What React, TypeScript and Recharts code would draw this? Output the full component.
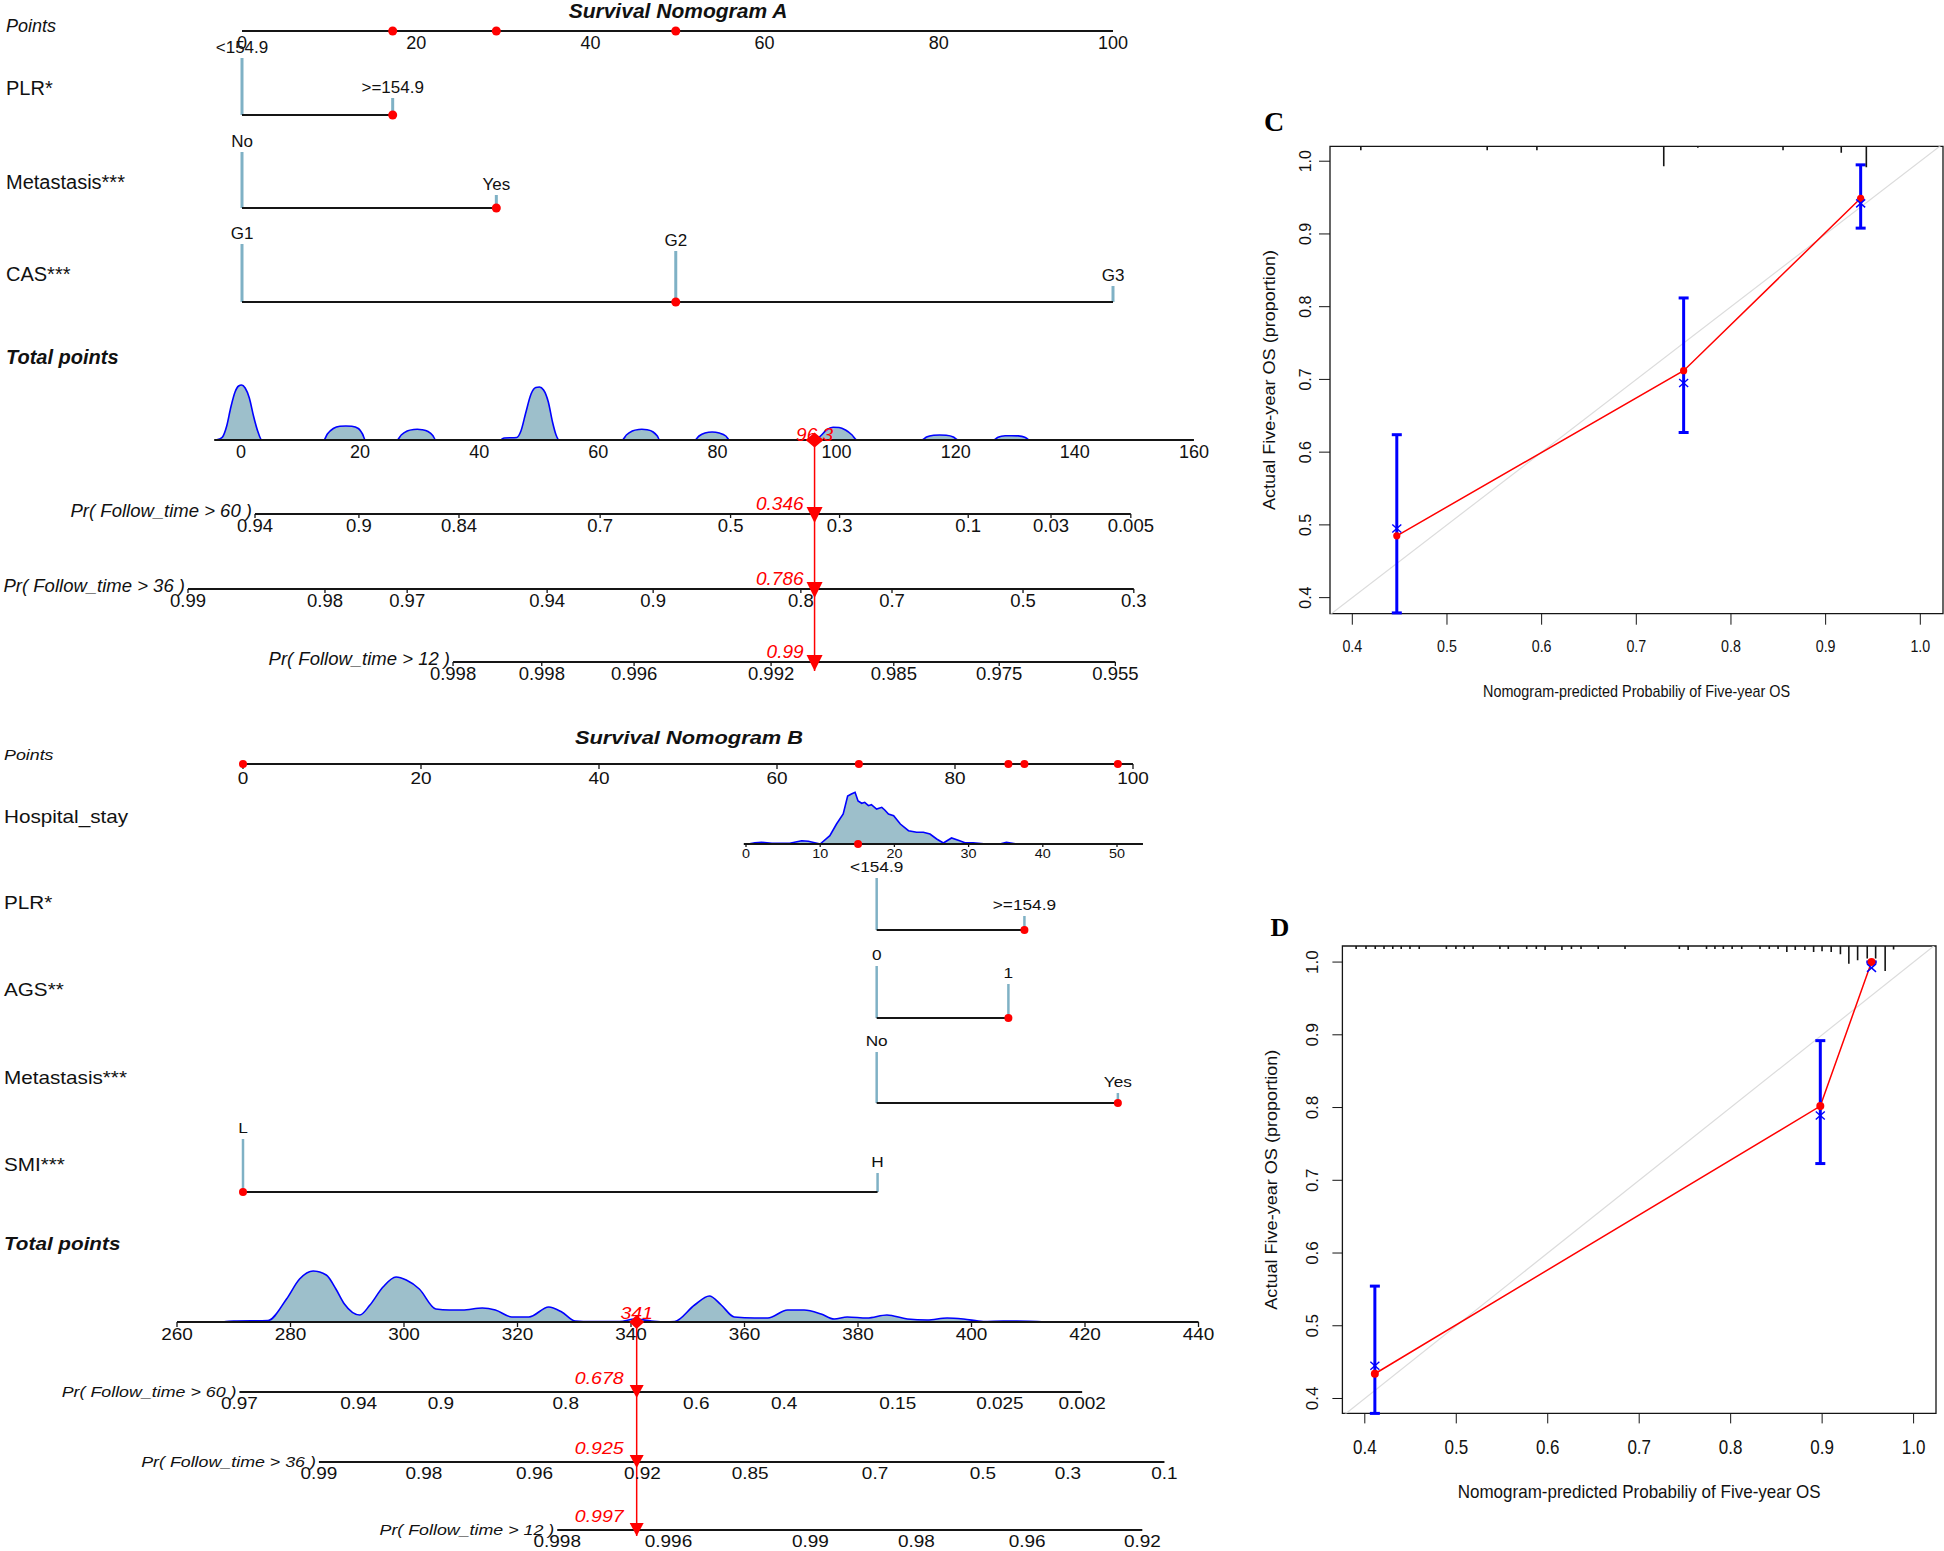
import React from "react";
import {
  ComposedChart,
  XAxis,
  YAxis,
  Area,
  Line,
  Scatter,
  ErrorBar,
  ReferenceLine,
  ReferenceArea,
} from "recharts";

const SANS = "'Liberation Sans', Arial, Helvetica, sans-serif";
const SERIF = "'Liberation Serif', 'Times New Roman', serif";
const RED = "#ff0000";
const BLUE = "#0000ff";
const BAR = "#7fb1c5";
const FILL = "#9dbfcb";
const INK = "#151515";

type Cat = { name: string; pts: number; freq: number };

// ---------------- Nomogram A ----------------
const aPointTicks = [0, 20, 40, 60, 80, 100];
const aPicked = [17.3, 29.2, 49.8];
const aPlr: Cat[] = [
  { name: "<154.9", pts: 0, freq: 57 },
  { name: ">=154.9", pts: 17.3, freq: 17 },
];
const aMeta: Cat[] = [
  { name: "No", pts: 0, freq: 56 },
  { name: "Yes", pts: 29.2, freq: 13 },
];
const aCas: Cat[] = [
  { name: "G1", pts: 0, freq: 58 },
  { name: "G2", pts: 49.8, freq: 51 },
  { name: "G3", pts: 100, freq: 16 },
];
const aTotalTicks = [0, 20, 40, 60, 80, 100, 120, 140, 160];
const aTotalRange = [-4.5, 160];
// total points, density height
const aDensity: [number, number][] = [
  [-4.3, 0], [-3.6, 1], [-3.1, 3], [-2.4, 14], [-1.7, 33], [-1.0, 48], [-0.4, 54], [0.1, 55], [0.7, 52], [1.4, 42], [2.1, 24], [2.8, 9], [3.5, 0],
  [13.9, 0], [14.5, 6], [15.5, 11.5], [16.6, 13.7], [17.6, 14], [18.6, 13.7], [19.7, 11.5], [20.4, 6], [20.9, 0],
  [26.2, 0], [26.9, 5], [27.9, 9], [29.0, 10.5], [29.6, 10.7], [30.4, 10.3], [31.4, 8.5], [32.2, 4.5], [32.7, 0],
  [43.5, 0], [44.2, 2], [46.3, 2.5], [47.0, 9], [47.8, 27], [48.7, 46], [49.5, 52.5], [50.1, 53], [50.8, 50], [51.6, 38], [52.3, 18], [52.9, 5], [53.4, 0],
  [64.0, 0], [64.7, 5], [65.7, 9], [66.8, 10.5], [67.3, 10.7], [68.2, 10.2], [69.2, 8], [69.9, 4], [70.3, 0],
  [76.2, 0], [76.9, 4], [77.9, 7], [79.1, 8], [80.3, 7], [81.4, 4], [82.0, 0],
  [96.5, 0], [97.3, 4], [98.3, 10], [99.4, 12.7], [100.4, 12.5], [101.5, 10], [102.6, 5], [103.4, 0],
  [114.3, 0], [115.1, 3], [116.3, 4.7], [117.3, 5], [118.4, 4.7], [119.6, 3], [120.4, 0],
  [126.3, 0], [127.1, 2.8], [128.3, 4.2], [129.4, 4.3], [130.5, 4.1], [131.6, 2.8], [132.3, 0],
];
const aTotal = 96.3;
// probability label, position on the total points scale
const aPr60: [string, number][] = [["0.94", 2.35], ["0.9", 19.8], ["0.84", 36.6], ["0.7", 60.3], ["0.5", 82.2], ["0.3", 100.5], ["0.1", 122.1], ["0.03", 136.0], ["0.005", 149.4]];
const aPr36: [string, number][] = [["0.99", -8.9], ["0.98", 14.1], ["0.97", 27.9], ["0.94", 51.4], ["0.9", 69.2], ["0.8", 94.0], ["0.7", 109.3], ["0.5", 131.3], ["0.3", 149.9]];
const aPr12: [string, number][] = [["0.998", 35.6], ["0.998", 50.5], ["0.996", 66.0], ["0.992", 89.0], ["0.985", 109.6], ["0.975", 127.3], ["0.955", 146.8]];
const aPrValues = ["0.346", "0.786", "0.99"];

// ---------------- Nomogram B ----------------
const bPointTicks = [0, 20, 40, 60, 80, 100];
const bPicked = [0, 69.2, 86.0, 87.8, 98.3];
const bStayTicks = [0, 10, 20, 30, 40, 50];
const bStayRange = [-0.3, 53.5];
const bStay = 15.1;
// hospital stay (days), density height
const bStayDensity: [number, number][] = [
  [0.3, 0], [1.2, 1.3], [2.1, 1.7], [3.5, 0.7], [5.9, 0.7], [7.5, 3.3], [8.4, 2.7], [10, 0], [11.3, 8.3], [12.2, 20],
  [13.1, 30], [13.7, 48], [14.2, 50], [14.7, 51.7], [15.1, 43], [15.6, 40.7], [16, 41.7], [16.5, 38.3], [16.9, 39.3],
  [17.6, 35], [18.3, 36.7], [18.7, 34], [19.2, 30], [19.9, 28.3], [20.8, 20], [21.9, 13.3], [23, 11.7], [23.9, 11.7],
  [24.8, 10], [25.7, 5], [26.6, 1], [27.7, 6], [28.8, 3.3], [29.5, 1.3], [30.6, 1.3], [32.4, 0], [34.2, 0], [35.1, 1.7], [36.5, 0],
];
const bPlr: Cat[] = [
  { name: "<154.9", pts: 71.2, freq: 52 },
  { name: ">=154.9", pts: 87.8, freq: 14 },
];
const bAgs: Cat[] = [
  { name: "0", pts: 71.2, freq: 52 },
  { name: "1", pts: 86.0, freq: 34 },
];
const bMeta: Cat[] = [
  { name: "No", pts: 71.2, freq: 51 },
  { name: "Yes", pts: 98.3, freq: 10 },
];
const bSmi: Cat[] = [
  { name: "L", pts: 0, freq: 53 },
  { name: "H", pts: 71.3, freq: 19 },
];
const bTotalTicks = [260, 280, 300, 320, 340, 360, 380, 400, 420, 440];
const bTotalRange = [260, 440];
const bDensity: [number, number][] = [
  [268, 0], [270, 1], [276, 1.5], [279.3, 23], [281.6, 43], [284, 51], [286.3, 47], [288, 33], [289.5, 18], [292.2, 7],
  [294, 17], [296.3, 35], [298.6, 45], [300.4, 42], [302.7, 33], [305.6, 13], [308, 12], [310.3, 12], [313.8, 14],
  [316.1, 12], [319, 5], [322, 5], [325.5, 15], [327.8, 10], [330.2, 1], [333, 0.5], [338, 0.5], [340.7, 3], [343.6, 1],
  [346, 0], [347.7, 0.5], [351.2, 17], [353.8, 26], [355.9, 17], [358.2, 5], [361.8, 4], [364.1, 4], [367.6, 12],
  [370.5, 12], [373.5, 8], [375.8, 3], [378.1, 5], [381.6, 4], [385.1, 7], [388.7, 3], [392.2, 2], [395.7, 4],
  [398.6, 3], [402.1, 0.5], [405.6, 1], [408, 1], [413.2, 0],
];
const bTotal = 341;
const bPr60: [string, number][] = [["0.97", 271], ["0.94", 292], ["0.9", 306.5], ["0.8", 328.5], ["0.6", 351.5], ["0.4", 367], ["0.15", 387], ["0.025", 405], ["0.002", 419.5]];
const bPr36: [string, number][] = [["0.99", 285], ["0.98", 303.5], ["0.96", 323], ["0.92", 342], ["0.85", 361], ["0.7", 383], ["0.5", 402], ["0.3", 417], ["0.1", 434]];
const bPr12: [string, number][] = [["0.998", 327], ["0.996", 346.6], ["0.99", 371.6], ["0.98", 390.3], ["0.96", 409.8], ["0.92", 430.1]];
const bPrValues = ["0.678", "0.925", "0.997"];

// ---------------- Calibration C / D ----------------
const calTicks = [0.4, 0.5, 0.6, 0.7, 0.8, 0.9, 1.0];
const cPred = [0.447, 0.75, 0.937];
const cObs = [0.485, 0.712, 0.949];
const cKm = [0.495, 0.695, 0.942];
const cLo = [0.379, 0.627, 0.908];
const cHi = [0.624, 0.812, 0.995];
const cRug: [number, number][] = [[0.409, 4], [0.5425, 4], [0.595, 4], [0.729, 20], [0.765, 1.5], [0.855, 4], [0.9165, 6.5], [0.943, 21]];

const dPred = [0.411, 0.898, 0.954];
const dObs = [0.434, 0.802, 1.0];
const dKm = [0.445, 0.789, 0.992];
const dLo = [0.3795, 0.723, 1.0];
const dHi = [0.5545, 0.892, 1.0];
const dRug: [number, number][] = [
  [0.3905, 3], [0.4013, 3], [0.4114, 3], [0.421, 3], [0.4306, 3], [0.4398, 3], [0.4494, 3], [0.4595, 3],
  [0.4892, 3], [0.4996, 3], [0.5088, 3], [0.5184, 3], [0.5477, 3], [0.5569, 3], [0.577, 3], [0.5875, 3], [0.5971, 4],
  [0.6155, 4], [0.6259, 3], [0.6364, 3], [0.6552, 3], [0.6845, 3], [0.7439, 3], [0.7535, 4], [0.7736, 3], [0.7828, 3],
  [0.792, 3], [0.8016, 3], [0.8121, 3], [0.8321, 3], [0.8422, 3], [0.8518, 3], [0.8614, 6], [0.8706, 4], [0.8811, 4],
  [0.8907, 6], [0.8999, 5.3], [0.9099, 6], [0.92, 8.2], [0.9292, 17.7], [0.9388, 14.2], [0.9493, 12.5], [0.9585, 12.5],
  [0.9689, 25], [0.9781, 3.5],
];

// ---------------- helpers ----------------
type TxtProps = {
  x: number;
  y: number;
  size: number;
  sx?: number;
  anchor?: "start" | "middle" | "end";
  bold?: boolean;
  italic?: boolean;
  fill?: string;
  family?: string;
  rotate?: number;
  len?: number;
  children: React.ReactNode;
};

function Txt({ x, y, size, sx = 1, anchor = "start", bold, italic, fill = "#111", family = SANS, rotate = 0, len, children }: TxtProps) {
  return (
    <text
      transform={`translate(${x},${y}) rotate(${rotate}) scale(${sx},1)`}
      x={0}
      y={0}
      dy="0.35em"
      textAnchor={anchor}
      fontSize={size}
      fontWeight={bold ? 700 : 400}
      fontStyle={italic ? "italic" : "normal"}
      fontFamily={family}
      fill={fill}
      textLength={len}
      lengthAdjust={len ? "spacingAndGlyphs" : undefined}
    >
      {children}
    </text>
  );
}

const NOMO_W = 1240;
// domain of a hidden axis so that value v0 sits at pixel px0 with ppu pixels per unit
const span = (px0: number, v0: number, ppu: number): [number, number] => [v0 - px0 / ppu, v0 + (NOMO_W - px0) / ppu];

const nomoA = {
  top: 0,
  height: 700,
  sx: 1,
  fs: { title: 21, points: 18, variable: 20, cat: 17, tick: 18, total: 20, pr: 18.5, prTick: 18.5, red: 19, stayTick: 12 },
  title: "Survival Nomogram A",
  titleX: 678,
  titleY: 11,
  labelX: 6,
  ptsDom: span(242, 0, 8.71),
  totDom: span(241, 0, 5.956),
  stayDom: null as null | [number, number],
  pointsLabelY: 26,
  pointsY: 31,
  pointTicks: aPointTicks,
  picked: aPicked,
  pointTickDy: 11.5,
  pointTickMark: 0,
  stay: null as any,
  rows: [
    { label: "PLR*", labelY: 88, lineY: 115, cats: aPlr, pick: 1 },
    { label: "Metastasis***", labelY: 182, lineY: 208, cats: aMeta, pick: 1 },
    { label: "CAS***", labelY: 274, lineY: 302, cats: aCas, pick: 1 },
  ],
  totalLabelY: 357,
  totalY: 440,
  totalTicks: aTotalTicks,
  totalRange: aTotalRange,
  totalTickDy: 11.5,
  totalTickMark: 0,
  density: aDensity,
  total: aTotal,
  diamond: [9, 7.5],
  totalTextDy: 6,
  prRows: [
    { label: "Pr( Follow_time > 60 )", y: 514, ticks: aPr60, value: aPrValues[0] },
    { label: "Pr( Follow_time > 36 )", y: 589, ticks: aPr36, value: aPrValues[1] },
    { label: "Pr( Follow_time > 12 )", y: 662, ticks: aPr12, value: aPrValues[2] },
  ],
  prLabelDy: 3,
  prTickDy: 12,
  prTickMark: 4,
  tri: [16, 7, 9],
  redDx: 11,
  redDy: 11,
  lineW: 2.2,
  barW: 3,
  dotR: 4.5,
};

const nomoB = {
  ...nomoA,
  top: 700,
  height: 851,
  sx: 1.15,
  fs: { title: 19, points: 15.5, variable: 18, cat: 15, tick: 16.5, total: 18, pr: 15.5, prTick: 16.5, red: 17, stayTick: 12.5 },
  title: "Survival Nomogram B",
  titleX: 689,
  titleY: 737,
  labelX: 4,
  ptsDom: span(243, 0, 8.9),
  totDom: span(177, 260, 5.675),
  stayDom: span(746, 0, 7.42),
  pointsLabelY: 755,
  pointsY: 764,
  pointTicks: bPointTicks,
  picked: bPicked,
  pointTickDy: 14,
  pointTickMark: 5,
  stay: { label: "Hospital_stay", labelY: 817, y: 844, ticks: bStayTicks, range: bStayRange, density: bStayDensity, pick: bStay, tickDy: 9.5, mark: 3 },
  rows: [
    { label: "PLR*", labelY: 903, lineY: 930, cats: bPlr, pick: 1 },
    { label: "AGS**", labelY: 990, lineY: 1018, cats: bAgs, pick: 1 },
    { label: "Metastasis***", labelY: 1078, lineY: 1103, cats: bMeta, pick: 1 },
    { label: "SMI***", labelY: 1165, lineY: 1192, cats: bSmi, pick: 0 },
  ],
  totalLabelY: 1244,
  totalY: 1322,
  totalTicks: bTotalTicks,
  totalRange: bTotalRange,
  totalTickDy: 12,
  totalTickMark: 5,
  density: bDensity,
  total: bTotal,
  diamond: [7.5, 7],
  totalTextDy: 9,
  prRows: [
    { label: "Pr( Follow_time > 60 )", y: 1392, ticks: bPr60, value: bPrValues[0] },
    { label: "Pr( Follow_time > 36 )", y: 1462, ticks: bPr36, value: bPrValues[1] },
    { label: "Pr( Follow_time > 12 )", y: 1530, ticks: bPr12, value: bPrValues[2] },
  ],
  prLabelDy: 0,
  prTickDy: 11.5,
  prTickMark: 0,
  tri: [14, 7, 6],
  redDx: 13,
  redDy: 14,
  lineW: 2,
  barW: 2.5,
  dotR: 4,
};

function Nomogram({ c }: { c: typeof nomoA }) {
  const r = (y: number) => y - c.top;
  const f = c.fs;
  const last = c.prRows[c.prRows.length - 1];

  const tick = (dy: number, size: number, mark: number) => (p: any) => (
    <g>
      {mark > 0 ? <line x1={p.cx} x2={p.cx} y1={p.cy} y2={p.cy + mark} stroke={INK} strokeWidth={1.3} /> : null}
      <Txt x={p.cx} y={p.cy + dy} size={size} sx={c.sx} anchor="middle">
        {p.payload.label}
      </Txt>
    </g>
  );
  const dot = (p: any) => <circle cx={p.cx} cy={p.cy} r={c.dotR} fill={RED} />;
  const catLabel = (p: any) => (
    <Txt x={p.cx} y={p.cy - 11} size={f.cat} sx={c.sx} anchor="middle">
      {p.payload.label}
    </Txt>
  );
  const prLabel = (p: any) => (
    <Txt x={p.cx - 3} y={p.cy - c.prLabelDy} size={f.pr} sx={c.sx} anchor="end" italic>
      {p.payload.label}
    </Txt>
  );
  const tri = (p: any) => {
    const [w, up, down] = c.tri;
    return (
      <g>
        <path d={`M${p.cx - w / 2},${p.cy - up}L${p.cx + w / 2},${p.cy - up}L${p.cx},${p.cy + down}Z`} fill={RED} />
        <Txt x={p.cx - c.redDx} y={p.cy - c.redDy} size={f.red} sx={c.sx} anchor="end" italic fill={RED}>
          {p.payload.label}
        </Txt>
      </g>
    );
  };
  const diamond = (p: any) => {
    const [hw, hh] = c.diamond;
    return (
      <g>
        <path d={`M${p.cx},${p.cy - hh}L${p.cx + hw},${p.cy}L${p.cx},${p.cy + hh}L${p.cx - hw},${p.cy}Z`} fill={RED} />
        <Txt x={p.cx} y={p.cy - c.totalTextDy} size={f.red} sx={c.sx} anchor="middle" italic fill={RED}>
          {p.payload.label}
        </Txt>
      </g>
    );
  };

  const seg = (key: string, axis: string, x1: number, y1: number, x2: number, y2: number, stroke: string, w: number) => (
    <ReferenceLine key={key} xAxisId={axis} yAxisId="row" segment={[{ x: x1, y: y1 }, { x: x2, y: y2 }]} stroke={stroke} strokeWidth={w} ifOverflow="visible" />
  );
  const sc = (key: string, axis: string, data: any[], shape: any) => (
    <Scatter key={key} xAxisId={axis} yAxisId="row" data={data} shape={shape} isAnimationActive={false} />
  );

  const stay = c.stay;

  return (
    <div style={{ position: "absolute", left: 0, top: c.top, width: NOMO_W, height: c.height }}>
      <ComposedChart width={NOMO_W} height={c.height} margin={{ top: 0, right: 0, bottom: 0, left: 0 }}>
        <XAxis xAxisId="pts" type="number" dataKey="x" domain={c.ptsDom} allowDataOverflow hide />
        <XAxis xAxisId="tot" type="number" dataKey="x" domain={c.totDom} allowDataOverflow hide />
        {c.stayDom ? <XAxis xAxisId="stay" type="number" dataKey="x" domain={c.stayDom} allowDataOverflow hide /> : null}
        <YAxis yAxisId="row" type="number" dataKey="y" domain={[c.top, c.top + c.height]} reversed allowDataOverflow hide />

        <Txt x={c.titleX} y={r(c.titleY)} size={f.title} sx={c.sx} anchor="middle" bold italic>
          {c.title}
        </Txt>
        <Txt x={c.labelX} y={r(c.pointsLabelY)} size={f.points} sx={c.sx} italic>
          Points
        </Txt>
        {c.rows.map((row) => (
          <Txt key={row.label} x={c.labelX} y={r(row.labelY)} size={f.variable} sx={c.sx}>
            {row.label}
          </Txt>
        ))}
        {stay ? (
          <Txt x={c.labelX} y={r(stay.labelY)} size={f.variable} sx={c.sx}>
            {stay.label}
          </Txt>
        ) : null}
        <Txt x={c.labelX} y={r(c.totalLabelY)} size={f.total} sx={c.sx} bold italic>
          Total points
        </Txt>

        <Area
          xAxisId="tot"
          yAxisId="row"
          data={c.density.map(([t, h]) => ({ x: t, y: c.totalY - h }))}
          dataKey="y"
          baseValue={c.totalY}
          type="monotone"
          stroke={BLUE}
          strokeWidth={1.6}
          fill={FILL}
          fillOpacity={1}
          dot={false}
          activeDot={false}
          isAnimationActive={false}
        />
        {stay ? (
          <Area
            xAxisId="stay"
            yAxisId="row"
            data={stay.density.map(([s, h]: [number, number]) => ({ x: s, y: stay.y - h }))}
            dataKey="y"
            baseValue={stay.y}
            type="linear"
            stroke={BLUE}
            strokeWidth={1.6}
            fill={FILL}
            fillOpacity={1}
            dot={false}
            activeDot={false}
            isAnimationActive={false}
          />
        ) : null}

        {c.rows.flatMap((row) =>
          row.cats.map((k) => seg(`bar-${row.label}-${k.name}`, "pts", k.pts, row.lineY, k.pts, row.lineY - k.freq, BAR, c.barW))
        )}

        {seg("pts-axis", "pts", c.pointTicks[0], c.pointsY, c.pointTicks[c.pointTicks.length - 1], c.pointsY, INK, c.lineW)}
        {c.rows.map((row) =>
          seg(
            `line-${row.label}`,
            "pts",
            Math.min(...row.cats.map((k) => k.pts)),
            row.lineY,
            Math.max(...row.cats.map((k) => k.pts)),
            row.lineY,
            INK,
            c.lineW
          )
        )}
        {stay ? seg("stay-axis", "stay", stay.range[0], stay.y, stay.range[1], stay.y, INK, c.lineW) : null}
        {seg("tot-axis", "tot", c.totalRange[0], c.totalY, c.totalRange[1], c.totalY, INK, c.lineW)}
        {c.prRows.map((pr) => seg(`pr-${pr.y}`, "tot", pr.ticks[0][1], pr.y, pr.ticks[pr.ticks.length - 1][1], pr.y, INK, c.lineW))}
        {seg("red-drop", "tot", c.total, c.totalY, c.total, last.y + c.tri[2], RED, 1.5)}

        {sc("pts-ticks", "pts", c.pointTicks.map((v) => ({ x: v, y: c.pointsY, label: String(v) })), tick(c.pointTickDy, f.tick, c.pointTickMark))}
        {sc("pts-picked", "pts", c.picked.map((v) => ({ x: v, y: c.pointsY })), dot)}
        {c.rows.map((row) =>
          sc(`cat-${row.label}`, "pts", row.cats.map((k) => ({ x: k.pts, y: row.lineY - k.freq, label: k.name })), catLabel)
        )}
        {c.rows.map((row) => sc(`pick-${row.label}`, "pts", [{ x: row.cats[row.pick].pts, y: row.lineY }], dot))}
        {stay
          ? sc("stay-ticks", "stay", stay.ticks.map((v: number) => ({ x: v, y: stay.y, label: String(v) })), tick(stay.tickDy, f.stayTick, stay.mark))
          : null}
        {stay ? sc("stay-pick", "stay", [{ x: stay.pick, y: stay.y }], dot) : null}
        {sc("tot-ticks", "tot", c.totalTicks.map((v) => ({ x: v, y: c.totalY, label: String(v) })), tick(c.totalTickDy, f.tick, c.totalTickMark))}
        {c.prRows.map((pr) =>
          sc(`prt-${pr.y}`, "tot", pr.ticks.map(([l, t]) => ({ x: t, y: pr.y, label: l })), tick(c.prTickDy, f.prTick, c.prTickMark))
        )}
        {c.prRows.map((pr) => sc(`prl-${pr.y}`, "tot", [{ x: pr.ticks[0][1], y: pr.y, label: pr.label }], prLabel))}
        {c.prRows.map((pr) => sc(`prv-${pr.y}`, "tot", [{ x: c.total, y: pr.y, label: pr.value }], tri))}
        {sc("tot-mark", "tot", [{ x: c.total, y: c.totalY, label: String(c.total) }], diamond)}
      </ComposedChart>
    </div>
  );
}

// ---------------- calibration panels ----------------
const calC = {
  left: 1240,
  top: 90,
  width: 704,
  height: 700,
  marginTop: 56.3,
  marginRight: 1,
  yAxisW: 90,
  xAxisH: 176.3,
  xDom: [0.37644, 1.02398] as [number, number],
  yDom: [0.3779, 1.0205] as [number, number],
  tickLen: 11,
  xLabDy: 32.3,
  yLabDx: 25,
  xTickFs: 17,
  xTickSx: 0.84,
  yTickFs: 16,
  letter: "C",
  letterX: 34,
  letterY: 31,
  letterFs: 28,
  xTitleY: 600.6,
  xTitleFs: 17,
  xTitleLen: 307,
  yTitleX: 29,
  yTitleFs: 16,
  yTitleLen: 260,
  dotR: 3.6,
  pred: cPred,
  obs: cObs,
  km: cKm,
  lo: cLo,
  hi: cHi,
  rug: cRug,
};

const calD = {
  ...calC,
  top: 900,
  height: 651,
  marginTop: 46,
  marginRight: 8,
  yAxisW: 102.4,
  xAxisH: 137.6,
  xDom: [0.37551, 1.02449] as [number, number],
  yDom: [0.3795, 1.0221] as [number, number],
  tickLen: 10,
  xLabDy: 33.4,
  yLabDx: 30.6,
  xTickFs: 20,
  xTickSx: 0.85,
  yTickFs: 17,
  letter: "D",
  letterX: 40,
  letterY: 27,
  letterFs: 26,
  xTitleY: 591.5,
  xTitleFs: 19,
  xTitleLen: 363,
  yTitleX: 31,
  yTitleFs: 17,
  yTitleLen: 260,
  dotR: 4,
  pred: dPred,
  obs: dObs,
  km: dKm,
  lo: dLo,
  hi: dHi,
  rug: dRug,
};

function Calibration({ c }: { c: typeof calC }) {
  const plotBottom = c.height - c.xAxisH;
  const plotCx = c.yAxisW + (c.width - c.yAxisW - c.marginRight) / 2;
  const plotCy = c.marginTop + (plotBottom - c.marginTop) / 2;
  const obs = c.pred.map((x, i) => ({ x, y: c.obs[i], err: [c.obs[i] - c.lo[i], c.hi[i] - c.obs[i]] }));
  const km = c.pred.map((x, i) => ({ x, y: c.km[i] }));
  const rug = c.rug.map(([x, n]) => ({ x, y: c.yDom[1], n }));

  const xTick = (p: any) => (
    <Txt x={p.x} y={plotBottom + c.xLabDy} size={c.xTickFs} sx={c.xTickSx} anchor="middle">
      {Number(p.payload.value).toFixed(1)}
    </Txt>
  );
  const yTick = (p: any) => (
    <Txt x={c.yAxisW - c.yLabDx} y={p.y} size={c.yTickFs} rotate={-90} anchor="middle">
      {Number(p.payload.value).toFixed(1)}
    </Txt>
  );
  const rugShape = (p: any) => <line x1={p.cx} x2={p.cx} y1={p.cy} y2={p.cy + p.payload.n} stroke={INK} strokeWidth={1.6} />;
  const redDot = (p: any) => <circle cx={p.cx} cy={p.cy} r={c.dotR} fill={RED} />;
  const cross = (p: any) => (
    <g stroke={BLUE} strokeWidth={1.4}>
      <line x1={p.cx - 4.5} y1={p.cy - 4} x2={p.cx + 4.5} y2={p.cy + 4} />
      <line x1={p.cx - 4.5} y1={p.cy + 4} x2={p.cx + 4.5} y2={p.cy - 4} />
    </g>
  );

  return (
    <div style={{ position: "absolute", left: c.left, top: c.top, width: c.width, height: c.height }}>
      <ComposedChart width={c.width} height={c.height} margin={{ top: c.marginTop, right: c.marginRight, bottom: 0, left: 0 }}>
        <XAxis
          type="number"
          dataKey="x"
          domain={c.xDom}
          allowDataOverflow
          ticks={calTicks}
          interval={0}
          height={c.xAxisH}
          axisLine={false}
          tickSize={c.tickLen}
          stroke={INK}
          tick={xTick}
        />
        <YAxis
          type="number"
          dataKey="y"
          domain={c.yDom}
          allowDataOverflow
          ticks={calTicks}
          interval={0}
          width={c.yAxisW}
          axisLine={false}
          tickSize={c.tickLen}
          stroke={INK}
          tick={yTick}
        />
        <Txt x={c.letterX} y={c.letterY} size={c.letterFs} family={SERIF} bold anchor="middle" fill="#000">
          {c.letter}
        </Txt>
        <Txt x={plotCx} y={c.xTitleY} size={c.xTitleFs} anchor="middle" len={c.xTitleLen}>
          Nomogram-predicted Probabiliy of Five-year OS
        </Txt>
        <Txt x={c.yTitleX} y={plotCy} size={c.yTitleFs} rotate={-90} anchor="middle" len={c.yTitleLen}>
          Actual Five-year OS (proportion)
        </Txt>
        <ReferenceArea x1={c.xDom[0]} x2={c.xDom[1]} y1={c.yDom[0]} y2={c.yDom[1]} fill="none" stroke={INK} strokeWidth={1.3} ifOverflow="visible" />
        <ReferenceLine
          segment={[
            { x: c.xDom[0], y: c.xDom[0] },
            { x: c.xDom[1], y: c.xDom[1] },
          ]}
          stroke="#dcdcdc"
          strokeWidth={1.2}
          ifOverflow="hidden"
        />
        <Line data={obs} dataKey="y" stroke={RED} strokeWidth={1.5} dot={false} activeDot={false} isAnimationActive={false} />
        <Scatter data={rug} shape={rugShape} isAnimationActive={false} />
        <Scatter data={obs} shape={redDot} isAnimationActive={false}>
          <ErrorBar dataKey="err" direction="y" width={5} stroke={BLUE} strokeWidth={3} />
        </Scatter>
        <Scatter data={km} shape={cross} isAnimationActive={false} />
      </ComposedChart>
    </div>
  );
}

export default function App() {
  return (
    <div style={{ position: "absolute", left: 0, top: 0, width: 1944, height: 1551, background: "#fff", overflow: "hidden" }}>
      <Nomogram c={nomoA} />
      <Nomogram c={nomoB as typeof nomoA} />
      <Calibration c={calC} />
      <Calibration c={calD as typeof calC} />
    </div>
  );
}
